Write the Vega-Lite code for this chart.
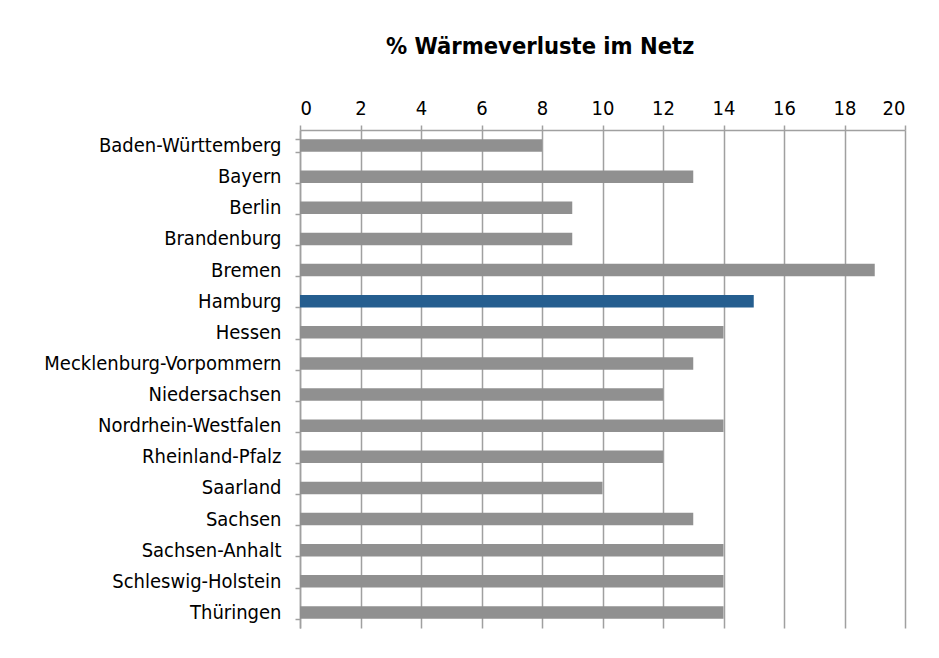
{
  "$schema": "https://vega.github.io/schema/vega-lite/v6.json",
  "autosize": "none",
  "width": 605,
  "height": 498,
  "padding": {"left": 300, "top": 130, "right": 34, "bottom": 30},
  "background": "white",
  "title": {
    "text": "% Wärmeverluste im Netz",
    "font": "DejaVu Sans Condensed, Roboto",
    "fontSize": 23.5,
    "fontWeight": "bold",
    "color": "#000000",
    "anchor": "start",
    "frame": "group",
    "dx": 86,
    "offset": 40
  },
  "data": {
    "values": [
      {"land": "Baden-Württemberg", "wert": 8, "hl": "n"},
      {"land": "Bayern", "wert": 13, "hl": "n"},
      {"land": "Berlin", "wert": 9, "hl": "n"},
      {"land": "Brandenburg", "wert": 9, "hl": "n"},
      {"land": "Bremen", "wert": 19, "hl": "n"},
      {"land": "Hamburg", "wert": 15, "hl": "y"},
      {"land": "Hessen", "wert": 14, "hl": "n"},
      {"land": "Mecklenburg-Vorpommern", "wert": 13, "hl": "n"},
      {"land": "Niedersachsen", "wert": 12, "hl": "n"},
      {"land": "Nordrhein-Westfalen", "wert": 14, "hl": "n"},
      {"land": "Rheinland-Pfalz", "wert": 12, "hl": "n"},
      {"land": "Saarland ", "wert": 10, "hl": "n"},
      {"land": "Sachsen", "wert": 13, "hl": "n"},
      {"land": "Sachsen-Anhalt", "wert": 14, "hl": "n"},
      {"land": "Schleswig-Holstein", "wert": 14, "hl": "n"},
      {"land": "Thüringen", "wert": 14, "hl": "n"}
    ]
  },
  "mark": {"type": "bar"},
  "encoding": {
    "y": {
      "field": "land",
      "type": "nominal",
      "sort": null,
      "scale": {"paddingInner": 0.6, "paddingOuter": 0.3},
      "axis": {
        "title": null,
        "tickBand": "extent",
        "tickSize": 5,
        "tickColor": "#a0a0a0",
        "tickWidth": 1.5,
        "domainColor": "#a0a0a0",
        "domainWidth": 1.5,
        "labelFont": "DejaVu Sans Condensed, Roboto",
        "labelFontSize": 20,
        "labelColor": "#000000",
        "labelPadding": 14,
        "labelLimit": 400,
        "grid": false
      }
    },
    "x": {
      "field": "wert",
      "type": "quantitative",
      "scale": {"domain": [0, 20], "nice": false},
      "axis": {
        "orient": "top",
        "title": null,
        "values": [0, 2, 4, 6, 8, 10, 12, 14, 16, 18, 20],
        "grid": true,
        "gridColor": "#a0a0a0",
        "gridWidth": 1.5,
        "gridOpacity": 1,
        "tickSize": 5,
        "tickColor": "#a0a0a0",
        "tickWidth": 1.5,
        "domainColor": "#a0a0a0",
        "domainWidth": 1.5,
        "labelFont": "DejaVu Sans Condensed, Roboto",
        "labelFontSize": 20,
        "labelColor": "#000000",
        "labelPadding": 7
      }
    },
    "color": {
      "field": "hl",
      "type": "nominal",
      "scale": {"domain": ["n", "y"], "range": ["#909090", "#255e8f"]},
      "legend": null
    }
  },
  "config": {"view": {"stroke": null}}
}
